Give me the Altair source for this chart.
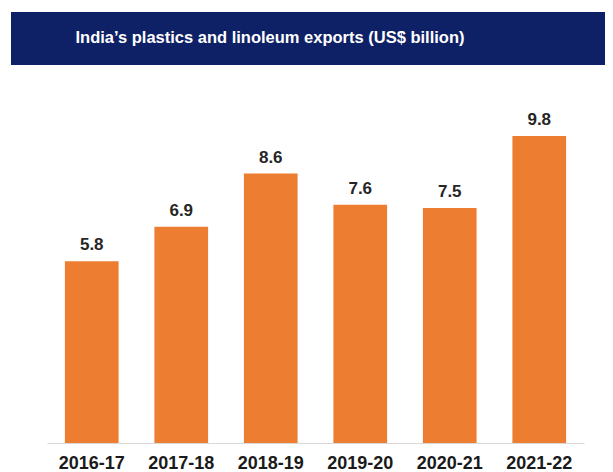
import altair as alt
import pandas as pd

years = ["2016-17", "2017-18", "2018-19", "2019-20", "2020-21", "2021-22"]
exports = [5.8, 6.9, 8.6, 7.6, 7.5, 9.8]
title_text = "India\u2019s plastics and linoleum exports (US$ billion)"

df = pd.DataFrame({"year": years, "value": exports})
banner_df = pd.DataFrame({"label": [title_text]})

FONT = "Liberation Sans"

x_enc = alt.X(
    "year:N",
    sort=years,
    scale=alt.Scale(paddingInner=0.4, paddingOuter=0.2),
    axis=alt.Axis(
        title=None,
        ticks=False,
        tickSize=0,
        labelAngle=0,
        labelFont=FONT,
        labelFontSize=18,
        labelFontWeight="bold",
        labelColor="#1a1a1a",
        labelPadding=11,
        domainColor="#D9D9D9",
        domainWidth=1.2,
        grid=False,
    ),
)
y_enc = alt.Y("value:Q", scale=alt.Scale(domain=[0, 12]), axis=None)

bars = alt.Chart(df).mark_bar(color="#ED7D31").encode(x=x_enc, y=y_enc)

labels = alt.Chart(df).mark_text(
    font=FONT, fontSize=17, fontWeight="bold", color="#262626",
    baseline="alphabetic", dy=-11,
).encode(x=alt.X("year:N", sort=years), y="value:Q", text=alt.Text("value:Q", format=".1f"))

banner = alt.Chart(banner_df).mark_rect(color="#0F2166").encode(
    x=alt.value(-36), x2=alt.value(580), y=alt.value(-55), y2=alt.value(-2)
)
banner_text = alt.Chart(banner_df).mark_text(
    font=FONT, fontSize=16.5, fontWeight="bold", color="white",
    align="center", baseline="middle",
).encode(x=alt.value(223), y=alt.value(-29), text="label:N")

chart = alt.layer(banner, banner_text, bars, labels).properties(
    width=537,
    height=376,
    autosize=alt.AutoSizeParams(type="none"),
    padding={"left": 39, "top": 59, "right": 21, "bottom": 29},
    background="white",
).configure_view(stroke=None)

chart.save("out.html", embed_options={"renderer": "svg", "actions": False})
